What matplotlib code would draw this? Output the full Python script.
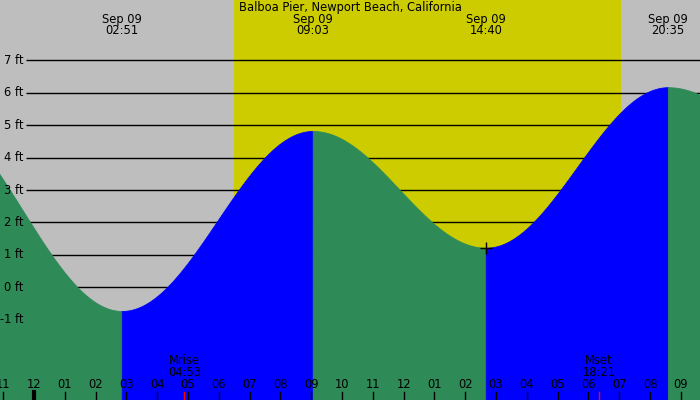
import numpy as np
import matplotlib
matplotlib.use("Agg")
import matplotlib.pyplot as plt
import matplotlib.transforms as mtransforms

# tide extremes (hours from midnight Sep 09, feet); first/last are off-screen
ext_hours = [-3.6, 2.85, 9.05, 14.667, 20.583, 29.0]
ext_heights = [5.5, -0.73, 4.82, 1.22, 6.17, -0.3]
shown = [1, 2, 3, 4]
shown_labels = ["02:51", "09:03", "14:40", "20:35"]

sunrise, sunset = 6.49, 19.06
moonrise, moonset = 4.883, 18.35
moon_labels = [("Mrise", "04:53", moonrise), ("Mset", "18:21", moonset)]
levels = [-1, 0, 1, 2, 3, 4, 5, 6, 7]
hours = list(range(-1, 22))

title = "Balboa Pier, Newport Beach, California"

GRAY = "#bebebe"
YELLOW = "#cccc00"
GREEN = "#2e8b57"
BLUE = "#0000ff"
FS = 8.3

x_lo, x_hi = -34 / 30.8, (700 - 34) / 30.8
y_lo, y_hi = (287.3 - 400) / 32.43, 287.3 / 32.43

fig = plt.figure(figsize=(7, 4), dpi=100)
ax = fig.add_axes([0, 0, 1, 1])
ax.set_xlim(x_lo, x_hi)
ax.set_ylim(y_lo, y_hi)
ax.axis("off")
ax.add_patch(plt.Rectangle((x_lo, y_lo), x_hi - x_lo, y_hi - y_lo, color=GRAY, zorder=0))
ax.axvspan(sunrise, sunset, color=YELLOW, zorder=0.5, lw=0)

# grid lines, under the water
ax.hlines(levels, -0.26, x_hi, colors="black", lw=1, zorder=1)
for lv in levels:
    ax.text(-0.33, lv, "%d ft" % lv, ha="right", va="center", fontsize=FS, zorder=5)

# water: cosine between extremes, blue rising, green falling
for i in range(len(ext_hours) - 1):
    t0, t1 = ext_hours[i], ext_hours[i + 1]
    h0, h1 = ext_heights[i], ext_heights[i + 1]
    t = np.linspace(t0, t1, 300)
    h = (h0 + h1) / 2 + (h0 - h1) / 2 * np.cos(np.pi * (t - t0) / (t1 - t0))
    color = BLUE if h1 > h0 else GREEN
    ax.fill_between(t, y_lo, h, facecolor=color, edgecolor=color, lw=0.6, zorder=2)

ax.plot(ext_hours[3], ext_heights[3], marker="+", color="black", ms=8, mew=1, zorder=4)

trans = mtransforms.blended_transform_factory(ax.transData, ax.transAxes)

ax.text(350 / 700, 1 - 7 / 400, title, transform=ax.transAxes, ha="center", va="center", fontsize=FS)
for idx, lab in zip(shown, shown_labels):
    ax.text(ext_hours[idx], 1 - 19 / 400, "Sep 09", transform=trans, ha="center", va="center", fontsize=FS)
    ax.text(ext_hours[idx], 1 - 31 / 400, lab, transform=trans, ha="center", va="center", fontsize=FS)

for name, tm, pos in moon_labels:
    ax.text(pos, 1 - 361 / 400, name, transform=trans, ha="center", va="center", fontsize=FS)
    ax.text(pos, 1 - 373 / 400, tm, transform=trans, ha="center", va="center", fontsize=FS)
    ax.plot([pos, pos], [0, 8 / 400], transform=trans, color="red", lw=1, zorder=6)

for hr in hours:
    lab = "%02d" % (hr % 12 if hr % 12 else 12)
    ax.text(hr, 1 - 385 / 400, lab, transform=trans, ha="center", va="center", fontsize=FS, zorder=6)
    lw = 3 if hr == 0 else 1
    ax.plot([hr, hr], [0, 8 / 400], transform=trans, color="black", lw=lw, zorder=6)

fig.savefig("out.png", dpi=100)
